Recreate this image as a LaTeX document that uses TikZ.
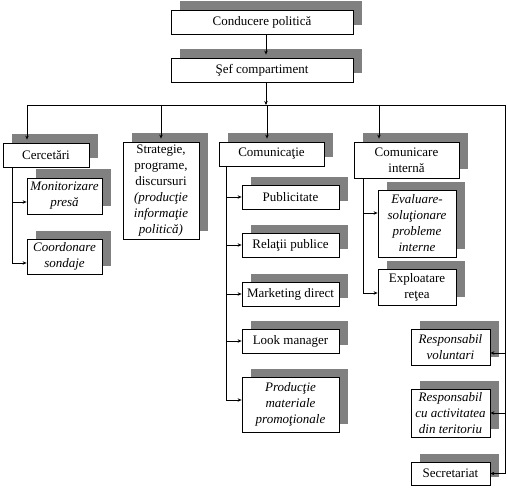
\documentclass[tikz,border=0pt]{standalone}
\usepackage{fontspec}
\setmainfont{Liberation Serif}
\usetikzlibrary{shadows,arrows.meta}
\definecolor{shgray}{RGB}{128,128,128}
\begin{document}
\begin{tikzpicture}[x=1pt,y=-1pt,
  bx/.style={draw, line width=0.8pt, fill=white, rectangle, inner sep=0pt, align=center,
    font=\fontsize{13}{16}\selectfont,
    drop shadow={shadow xshift=8.5pt, shadow yshift=8.5pt, fill=shgray, opacity=1}},
  sz/.style 2 args={minimum width=#1pt, minimum height=#2pt},
  ln/.style={line width=0.8pt},
  arr/.style={ln, -{Stealth[length=4pt,width=3.5pt]}}]
\useasboundingbox (0,0) rectangle (508,489);

% boxes
\node[bx, sz={182}{24}] (cond) at (262,22) {Conducere politică};
\node[bx, sz={182}{24}] (sef) at (262,70) {Şef compartiment};

\node[bx, sz={86}{24}] (cerc) at (46,155) {Cercetări};
\node[bx, sz={75}{36}] (mon) at (64.5,196) {\itshape Monitorizare\\\itshape presă};
\node[bx, sz={75}{35}] (coord) at (64.5,256.5) {\itshape Coordonare\\\itshape sondaje};

\node[bx, sz={76}{97}] (strat) at (161,190.5) {Strategie,\\programe,\\discursuri\\\itshape (producţie\\\itshape informaţie\\\itshape politică)};

\node[bx, sz={105}{24}] (com) at (271.5,154) {Comunicaţie};
\node[bx, sz={97}{24}] (pub) at (290.5,197) {Publicitate};
\node[bx, sz={97}{24}] (rel) at (290.5,245) {Relaţii publice};
\node[bx, sz={97}{24}] (mkt) at (290.5,294) {Marketing direct};
\node[bx, sz={97}{24}] (look) at (290.5,341) {Look manager};
\node[bx, sz={97}{55}] (prod) at (290.5,404.5) {\itshape Producţie\\\itshape materiale\\\itshape promoţionale};

\node[bx, sz={105}{36}] (ci) at (406.5,160) {Comunicare\\internă};
\node[bx, sz={78}{67}] (eval) at (417,223.5) {\itshape Evaluare-\\\itshape soluţionare\\\itshape probleme\\\itshape interne};
\node[bx, sz={78}{36}] (expl) at (417,287) {Exploatare\\reţea};

\node[bx, sz={79}{36}] (rv) at (450.5,347) {\itshape Responsabil\\\itshape voluntari};
\node[bx, sz={79}{48}] (rca) at (450.5,413) {\itshape Responsabil\\\itshape cu activitatea\\\itshape din teritoriu};
\node[bx, sz={79}{23}] (sec) at (450.5,473.5) {Secretariat};

% bus
\coordinate (busL) at (27,105);
\coordinate (busR) at (505,105);
\draw[ln] (busL) -- (busR);

% top connectors
\draw[arr] ([xshift=4pt]cond.south) -- ([xshift=4pt,yshift=3pt]sef.north);
\draw[arr] ([xshift=4pt]sef.south) -- ([xshift=4pt]sef.south |- busL);

% level 2
\draw[arr] (busL) -- ([yshift=3pt]busL |- cerc.north);
\draw[arr] (strat.north |- busL) -- ([yshift=3pt]strat.north);
\draw[arr] ([xshift=-4.5pt]com.north |- busL) -- ([xshift=-4.5pt,yshift=3pt]com.north);
\draw[arr] ([xshift=-27.5pt]ci.north |- busL) -- ([xshift=-27.5pt,yshift=3pt]ci.north);

% Cercetari children
\coordinate (cv) at (12,167);
\draw[arr] (cv) |- ([yshift=-6.5pt]coord.west);
\draw[arr] ([yshift=-6pt]mon.west -| cv) -- ([yshift=-6pt]mon.west);

% Comunicatie children
\coordinate (comv) at (226,166);
\draw[arr] (comv) |- ([yshift=4.5pt]prod.west);
\draw[arr] (pub.west -| comv) -- (pub.west);
\draw[arr] (rel.west -| comv) -- (rel.west);
\draw[arr] (mkt.west -| comv) -- (mkt.west);
\draw[arr] (look.west -| comv) -- (look.west);

% Comunicare interna children
\coordinate (civ) at (363,178);
\draw[arr] (civ) |- ([yshift=-6pt]expl.west);
\draw[arr] ([yshift=10.5pt]eval.west -| civ) -- ([yshift=10.5pt]eval.west);

% right bus
\draw[arr] (busR) |- (sec.east);
\draw[arr] ([yshift=-6pt]rv.east -| busR) -- ([yshift=-6pt]rv.east);
\draw[arr] (rca.east -| busR) -- (rca.east);
\end{tikzpicture}
\end{document}
